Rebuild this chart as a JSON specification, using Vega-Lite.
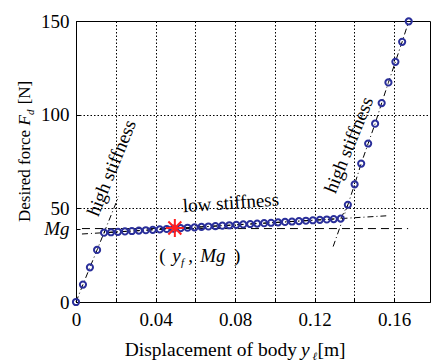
{
  "$schema": "https://vega.github.io/schema/vega-lite/v6.json",
  "width": 354,
  "height": 281,
  "autosize": {"type": "none"},
  "padding": {"left": 76, "top": 21, "right": 1, "bottom": 61},
  "background": "white",
  "config": {
    "view": {"stroke": "black", "strokeWidth": 1},
    "font": "Liberation Serif",
    "axis": {
      "domainColor": "black",
      "domainWidth": 1,
      "tickColor": "black",
      "labelColor": "black",
      "labelFont": "Liberation Serif",
      "labelFontSize": 19,
      "gridColor": "black",
      "gridDash": [1.5, 2],
      "gridWidth": 1
    }
  },
  "datasets": {
    "series": [
      {"x": 0, "y": 0}, {"x": 0.0035, "y": 9.3}, {"x": 0.007, "y": 18.5}, {"x": 0.0106, "y": 27.8},
      {"x": 0.0141, "y": 37.0}, {"x": 0.0176, "y": 37.22}, {"x": 0.0211, "y": 37.44}, {"x": 0.0246, "y": 37.66},
      {"x": 0.0281, "y": 37.88}, {"x": 0.0316, "y": 38.1}, {"x": 0.0351, "y": 38.32}, {"x": 0.0386, "y": 38.54},
      {"x": 0.0421, "y": 38.76}, {"x": 0.0456, "y": 38.98}, {"x": 0.0491, "y": 39.21}, {"x": 0.0526, "y": 39.43},
      {"x": 0.0561, "y": 39.65}, {"x": 0.0596, "y": 39.87}, {"x": 0.0631, "y": 40.09}, {"x": 0.0666, "y": 40.31},
      {"x": 0.0701, "y": 40.53}, {"x": 0.0736, "y": 40.75}, {"x": 0.0771, "y": 40.97}, {"x": 0.0806, "y": 41.19},
      {"x": 0.0841, "y": 41.41}, {"x": 0.0876, "y": 41.63}, {"x": 0.0911, "y": 41.85}, {"x": 0.0946, "y": 42.07},
      {"x": 0.0981, "y": 42.29}, {"x": 0.1016, "y": 42.51}, {"x": 0.1051, "y": 42.73}, {"x": 0.1086, "y": 42.95},
      {"x": 0.1121, "y": 43.17}, {"x": 0.1156, "y": 43.39}, {"x": 0.1191, "y": 43.62}, {"x": 0.1226, "y": 43.84},
      {"x": 0.1261, "y": 44.06}, {"x": 0.1296, "y": 44.28}, {"x": 0.1331, "y": 44.5},
      {"x": 0.1367, "y": 51.9}, {"x": 0.1401, "y": 62.8}, {"x": 0.1434, "y": 73.9}, {"x": 0.1469, "y": 84.6},
      {"x": 0.1504, "y": 95.2}, {"x": 0.1537, "y": 106.2}, {"x": 0.1571, "y": 117.2}, {"x": 0.1606, "y": 128.2},
      {"x": 0.164, "y": 138.9}, {"x": 0.1673, "y": 149.8}
    ],
    "mg": [{"x": 0.003, "y": 39.2}, {"x": 0.167, "y": 39.2}],
    "ext": [
      {"seg": "low", "x": 0.003, "y": 36.3}, {"seg": "low", "x": 0.156, "y": 46.0},
      {"seg": "left", "x": 0.0141, "y": 37.0}, {"seg": "left", "x": 0.0215, "y": 56.5},
      {"seg": "right", "x": 0.1293, "y": 29.6}, {"seg": "right", "x": 0.1367, "y": 51.9}
    ],
    "star": [{"x": 0.0497, "y": 39.5}],
    "notes": [
      {"label": "low stiffness", "x": 0.0779, "y": 52.9, "angle": 356},
      {"label": "high stiffness", "x": 0.0179, "y": 71.5, "angle": 292},
      {"label": "high stiffness", "x": 0.1372, "y": 83.8, "angle": 292}
    ],
    "plain": [
      {"label": "(", "x": 0.0418, "y": 21.5},
      {"label": ",", "x": 0.0565, "y": 21.5},
      {"label": ")", "x": 0.0795, "y": 21.5}
    ],
    "ital": [
      {"label": "y", "x": 0.0484, "y": 21.5},
      {"label": "Mg", "x": 0.0625, "y": 21.5}
    ],
    "sub": [
      {"label": "f", "x": 0.0528, "y": 21.5}
    ],
    "xtitle": [{"label": "Displacement of body", "x": 0.1111, "y": -28.6}],
    "xtitle_it": [{"label": "y", "x": 0.1131, "y": -28.6}],
    "xtitle_sub": [{"label": "ℓ", "x": 0.1189, "y": -28.6}],
    "xtitle_end": [{"label": "[m]", "x": 0.1214, "y": -28.6}],
    "ytitle": [{"label": "Desired force", "x": -0.0231, "y": 42.7}],
    "ytitle_it": [{"label": "F", "x": -0.0231, "y": 94.2}],
    "ytitle_sub": [{"label": "d", "x": -0.0231, "y": 99.8}],
    "ytitle_end": [{"label": "[N]", "x": -0.0231, "y": 105.5}]
  },
  "layer": [
    {
      "data": {"name": "mg"},
      "mark": {"type": "line", "color": "black", "strokeWidth": 1, "strokeDash": [8, 5]},
      "encoding": {
        "x": {
          "field": "x", "type": "quantitative",
          "scale": {"domain": [0, 0.178], "nice": false, "zero": false},
          "axis": {
            "title": null,
            "values": [0, 0.02, 0.04, 0.06, 0.08, 0.1, 0.12, 0.14, 0.16],
            "labelExpr": "datum.value == 0 ? '0' : (round(datum.value * 100) % 4 == 0 ? format(datum.value, '.2f') : '')",
            "tickSize": -4,
            "labelPadding": 12,
            "labelFlush": false,
            "labelOverlap": false,
            "grid": true
          }
        },
        "y": {
          "field": "y", "type": "quantitative",
          "scale": {"domain": [0, 150], "nice": false, "zero": false},
          "axis": {
            "title": null,
            "values": [0, 39.2, 50, 100, 150],
            "labelExpr": "datum.value == 39.2 ? 'Mg' : datum.label",
            "labelFontStyle": {"condition": {"test": "datum.value == 39.2", "value": "italic"}, "value": "normal"},
            "gridOpacity": {"condition": {"test": "datum.value == 39.2 || datum.value == 0 || datum.value == 150", "value": 0}, "value": 1},
            "tickSize": -4,
            "labelPadding": 11,
            "labelFlush": false,
            "labelOverlap": false,
            "grid": true
          }
        }
      }
    },
    {
      "data": {"name": "ext"},
      "mark": {"type": "line", "color": "black", "strokeWidth": 1, "strokeDash": [6, 3, 1, 3]},
      "encoding": {
        "x": {"field": "x", "type": "quantitative"},
        "y": {"field": "y", "type": "quantitative"},
        "detail": {"field": "seg"}
      }
    },
    {
      "data": {"name": "series"},
      "mark": {"type": "line", "color": "black", "strokeWidth": 1, "strokeDash": [6, 3, 1, 3]},
      "encoding": {
        "x": {"field": "x", "type": "quantitative"},
        "y": {"field": "y", "type": "quantitative"}
      }
    },
    {
      "data": {"name": "series"},
      "mark": {"type": "point", "shape": "circle", "filled": false, "color": "#2a2f9a", "strokeWidth": 2, "size": 38, "opacity": 1},
      "encoding": {
        "x": {"field": "x", "type": "quantitative"},
        "y": {"field": "y", "type": "quantitative"}
      }
    },
    {
      "data": {"name": "star"},
      "mark": {"type": "point", "shape": "M0,-1L0,1M-1,0L1,0M-0.72,-0.72L0.72,0.72M-0.72,0.72L0.72,-0.72", "filled": false, "color": "#ff2020", "strokeWidth": 2, "size": 324, "opacity": 1},
      "encoding": {
        "x": {"field": "x", "type": "quantitative"},
        "y": {"field": "y", "type": "quantitative"}
      }
    },
    {
      "data": {"name": "notes"},
      "mark": {"type": "text", "font": "Liberation Serif", "fontSize": 19, "color": "black", "align": "center", "baseline": "middle"},
      "encoding": {
        "x": {"field": "x", "type": "quantitative"},
        "y": {"field": "y", "type": "quantitative"},
        "text": {"field": "label"},
        "angle": {"field": "angle", "type": "quantitative", "scale": null}
      }
    },
    {
      "data": {"name": "plain"},
      "mark": {"type": "text", "font": "Liberation Serif", "fontSize": 19, "color": "black", "align": "left", "baseline": "alphabetic"},
      "encoding": {
        "x": {"field": "x", "type": "quantitative"},
        "y": {"field": "y", "type": "quantitative"},
        "text": {"field": "label"}
      }
    },
    {
      "data": {"name": "ital"},
      "mark": {"type": "text", "font": "Liberation Serif", "fontSize": 19, "fontStyle": "italic", "color": "black", "align": "left", "baseline": "alphabetic"},
      "encoding": {
        "x": {"field": "x", "type": "quantitative"},
        "y": {"field": "y", "type": "quantitative"},
        "text": {"field": "label"}
      }
    },
    {
      "data": {"name": "sub"},
      "mark": {"type": "text", "font": "Liberation Serif", "fontSize": 11, "fontStyle": "italic", "color": "black", "align": "left", "baseline": "alphabetic", "dy": 4},
      "encoding": {
        "x": {"field": "x", "type": "quantitative"},
        "y": {"field": "y", "type": "quantitative"},
        "text": {"field": "label"}
      }
    },
    {
      "data": {"name": "xtitle"},
      "mark": {"type": "text", "font": "Liberation Serif", "fontSize": 19.5, "color": "black", "align": "right", "baseline": "alphabetic"},
      "encoding": {
        "x": {"field": "x", "type": "quantitative"},
        "y": {"field": "y", "type": "quantitative"},
        "text": {"field": "label"}
      }
    },
    {
      "data": {"name": "xtitle_it"},
      "mark": {"type": "text", "font": "Liberation Serif", "fontSize": 19.5, "fontStyle": "italic", "color": "black", "align": "left", "baseline": "alphabetic"},
      "encoding": {
        "x": {"field": "x", "type": "quantitative"},
        "y": {"field": "y", "type": "quantitative"},
        "text": {"field": "label"}
      }
    },
    {
      "data": {"name": "xtitle_sub"},
      "mark": {"type": "text", "font": "Liberation Serif", "fontSize": 11, "fontStyle": "italic", "color": "black", "align": "left", "baseline": "alphabetic", "dy": 4},
      "encoding": {
        "x": {"field": "x", "type": "quantitative"},
        "y": {"field": "y", "type": "quantitative"},
        "text": {"field": "label"}
      }
    },
    {
      "data": {"name": "xtitle_end"},
      "mark": {"type": "text", "font": "Liberation Serif", "fontSize": 19.5, "color": "black", "align": "left", "baseline": "alphabetic"},
      "encoding": {
        "x": {"field": "x", "type": "quantitative"},
        "y": {"field": "y", "type": "quantitative"},
        "text": {"field": "label"}
      }
    },
    {
      "data": {"name": "ytitle"},
      "mark": {"type": "text", "font": "Liberation Serif", "fontSize": 17, "color": "black", "align": "left", "baseline": "alphabetic", "angle": 270},
      "encoding": {
        "x": {"field": "x", "type": "quantitative"},
        "y": {"field": "y", "type": "quantitative"},
        "text": {"field": "label"}
      }
    },
    {
      "data": {"name": "ytitle_it"},
      "mark": {"type": "text", "font": "Liberation Serif", "fontSize": 17, "fontStyle": "italic", "color": "black", "align": "left", "baseline": "alphabetic", "angle": 270},
      "encoding": {
        "x": {"field": "x", "type": "quantitative"},
        "y": {"field": "y", "type": "quantitative"},
        "text": {"field": "label"}
      }
    },
    {
      "data": {"name": "ytitle_sub"},
      "mark": {"type": "text", "font": "Liberation Serif", "fontSize": 11, "fontStyle": "italic", "color": "black", "align": "left", "baseline": "alphabetic", "angle": 270, "dy": 4},
      "encoding": {
        "x": {"field": "x", "type": "quantitative"},
        "y": {"field": "y", "type": "quantitative"},
        "text": {"field": "label"}
      }
    },
    {
      "data": {"name": "ytitle_end"},
      "mark": {"type": "text", "font": "Liberation Serif", "fontSize": 17, "color": "black", "align": "left", "baseline": "alphabetic", "angle": 270},
      "encoding": {
        "x": {"field": "x", "type": "quantitative"},
        "y": {"field": "y", "type": "quantitative"},
        "text": {"field": "label"}
      }
    }
  ]
}
